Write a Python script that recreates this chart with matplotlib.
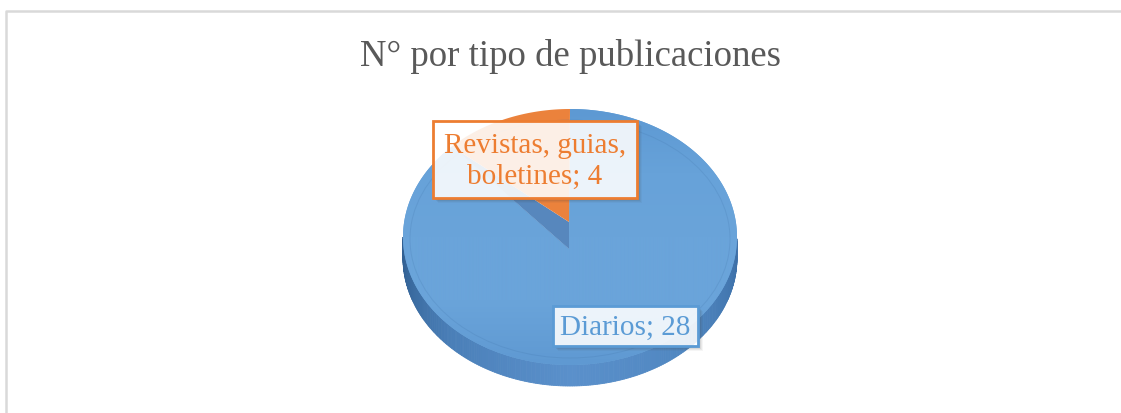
"""
3D-looking pie chart: N° por tipo de publicaciones.
"""

import numpy as np
import matplotlib.pyplot as plt
from matplotlib.patches import Polygon, Rectangle, Ellipse
from matplotlib.colors import LinearSegmentedColormap

# ===== Data =====
title = "N° por tipo de publicaciones"
categories = ["Diarios", "Revistas, guias,\nboletines"]
values = [28, 4]
colors = ["#64A0D8", "#EB823C"]
text_colors = ["#5B9BD5", "#ED7D31"]

# ===== Canvas (pixel coordinates) =====
W, H = 1121, 414
fig = plt.figure(figsize=(W / 100, H / 100), dpi=100)
ax = fig.add_axes([0, 0, 1, 1])
ax.set_xlim(0, W)
ax.set_ylim(H, 0)
ax.axis('off')

# chart area border (only top/left visible in the crop)
ax.plot([5.5, 5.5, W + 10], [H + 10, 11.5, 11.5], color='#d9d9d9', lw=1.8,
        solid_capstyle='butt')

ax.text(570, 57, title, ha='center', va='center', fontsize=26.5,
        family='Liberation Serif', color='#595959')

# pie geometry
cx, cy, rx, ry = 570, 238, 167, 128
px, py = 569, 250          # projected centre of the pie
depth = 21
lift = 27                  # the back slice sits a bit higher


def rim(a):
    t = np.radians(a)
    return cx + rx * np.cos(t), cy - ry * np.sin(t)


# slice angles: start at 12 o'clock, clockwise (like Excel)
total = float(sum(values))
starts, ends = [], []
a = 90.0
for v in values:
    starts.append(a - v / total * 360.0)
    ends.append(a)
    a -= v / total * 360.0

# ===== Side wall (front half) =====
side_cmap = LinearSegmentedColormap.from_list(
    'side', ['#2f5d8f', '#4a7fb8', '#5a90cb', '#4f86c0', '#3c6ea6'])
for i, (a1, a2) in enumerate(zip(starts, ends)):
    lo, hi = a1 % 360, a1 % 360 + (a2 - a1)
    seg = np.linspace(lo, hi, 400)
    seg = seg[((seg % 360) >= 180) & ((seg % 360) <= 360)]
    if len(seg) < 2:
        continue
    for s0, s1 in zip(seg[:-1], seg[1:]):
        x0, y0 = rim(s0)
        x1, y1 = rim(s1)
        c = side_cmap(((s0 % 360) - 180) / 180.0)
        ax.add_patch(Polygon([(x0, y0), (x1, y1), (x1, y1 + depth), (x0, y0 + depth)],
                             closed=True, fc=c, ec=c, lw=0.6))

# ===== Top faces =====
# big slice (first) with the projected centre
a1, a2 = starts[0], ends[0]
arc = np.linspace(a1, a2, 300)
xs, ys = rim(arc)
big = Polygon([(px, py)] + list(zip(xs, ys)), closed=True, fc=colors[0], ec='none')
ax.add_patch(big)

# soft lighting on the top face
face_cmap = LinearSegmentedColormap.from_list(
    'face', ['#5d99d3', '#67a2d9', '#6aa4da', '#6aa4da', '#5f99d2'])
grad = np.repeat(np.linspace(0, 1, 256).reshape(-1, 1), 4, axis=1)
im = ax.imshow(grad, cmap=face_cmap, extent=(cx - rx, cx + rx, cy + ry, cy - ry),
               aspect='auto', interpolation='bilinear', zorder=1.5)
im.set_clip_path(big)
ax.set_xlim(0, W)
ax.set_ylim(H, 0)

# inner wall of the raised back slice (along the shared edge)
rx1, ry1 = rim(ends[1])
ax.add_patch(Polygon([(px, py), (px, py - lift), (rx1, ry1)], closed=True,
                     fc='#5787bd', ec='none', zorder=2))

# back slice
arc = np.linspace(starts[1], ends[1], 100)
xs, ys = rim(arc)
ax.add_patch(Polygon([(px, py - lift)] + list(zip(xs, ys)), closed=True,
                     fc=colors[1], ec='none', zorder=2))

# bevel ring on top face
ax.add_patch(Ellipse((cx, cy + 2), 2 * (rx - 7), 2 * (ry - 9), fc='none',
                     ec='#3f72a8', lw=0.7, alpha=0.2, zorder=2))

# ===== Data labels =====
boxes = [(553, 307, 145, 40), (433, 122, 204, 77)]
for name, v, tc, (bx, by, bw, bh) in zip(categories, values, text_colors, boxes):
    # shadow only outside the box (right and bottom)
    for k, al in [(5, 0.05), (4, 0.07), (3, 0.09), (2, 0.12)]:
        ax.add_patch(Polygon([(bx + bw, by + k), (bx + bw + k, by + k),
                              (bx + bw + k, by + bh + k), (bx + k, by + bh + k),
                              (bx + k, by + bh), (bx + bw, by + bh)],
                             closed=True, fc='#404040', ec='none', alpha=al, zorder=3))
    ax.add_patch(Rectangle((bx, by), bw, bh, fc=(1, 1, 1, 0.88), ec=tc, lw=2.0, zorder=3))
    ax.text(bx + bw / 2, by + bh / 2 + 1, f"{name}; {v}", ha='center', va='center',
            fontsize=21, family='Liberation Serif', color=tc, linespacing=1.26, zorder=4)

plt.savefig('out.png', dpi=100)
